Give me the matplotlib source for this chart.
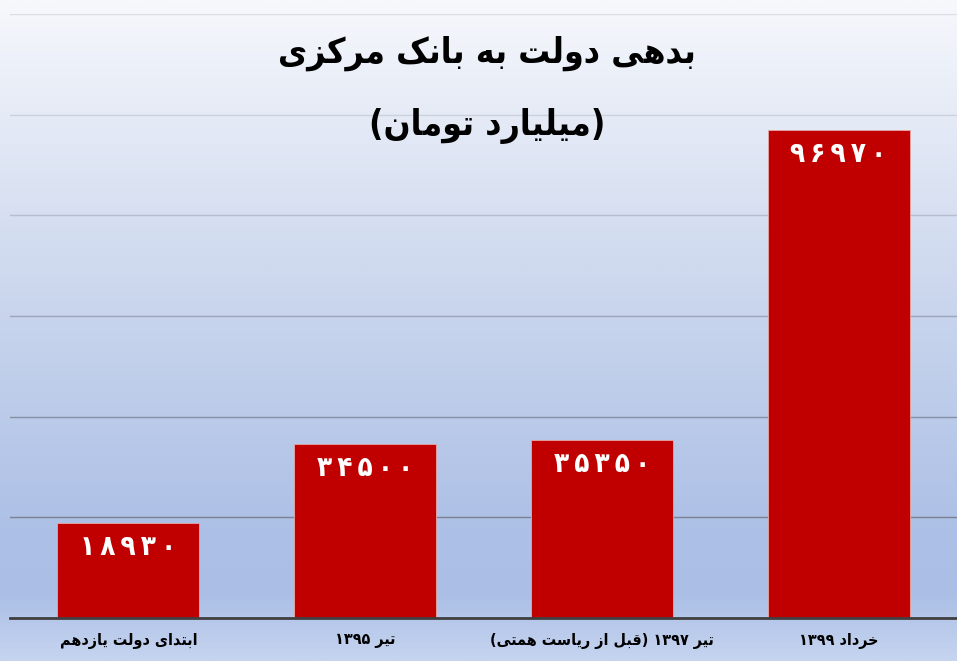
import numpy as np
import matplotlib
matplotlib.use("Agg")
import matplotlib.pyplot as plt
from matplotlib.colors import LinearSegmentedColormap

# ---------------- data ----------------
categories = ["ابتدای دولت یازدهم", "تیر ۱۳۹۵", "تیر ۱۳۹۷ (قبل از ریاست همتی)", "خرداد ۱۳۹۹"]
values = [18930, 34500, 35350, 96970]
title_line1 = "بدهی دولت به بانک مرکزی"
title_line2 = "(میلیارد تومان)"
y_ticks = [0, 20000, 40000, 60000, 80000, 100000, 120000]

# ---------------- Persian shaping helpers ----------------
FORMS = {
    'ا': (0xFE8D, 0xFE8E), 'آ': (0xFE81, 0xFE82),
    'ب': (0xFE8F, 0xFE90, 0xFE91, 0xFE92), 'پ': (0xFB56, 0xFB57, 0xFB58, 0xFB59),
    'ت': (0xFE95, 0xFE96, 0xFE97, 0xFE98), 'ث': (0xFE99, 0xFE9A, 0xFE9B, 0xFE9C),
    'ج': (0xFE9D, 0xFE9E, 0xFE9F, 0xFEA0), 'چ': (0xFB7A, 0xFB7B, 0xFB7C, 0xFB7D),
    'ح': (0xFEA1, 0xFEA2, 0xFEA3, 0xFEA4), 'خ': (0xFEA5, 0xFEA6, 0xFEA7, 0xFEA8),
    'د': (0xFEA9, 0xFEAA), 'ذ': (0xFEAB, 0xFEAC), 'ر': (0xFEAD, 0xFEAE),
    'ز': (0xFEAF, 0xFEB0), 'ژ': (0xFB8A, 0xFB8B),
    'س': (0xFEB1, 0xFEB2, 0xFEB3, 0xFEB4), 'ش': (0xFEB5, 0xFEB6, 0xFEB7, 0xFEB8),
    'ص': (0xFEB9, 0xFEBA, 0xFEBB, 0xFEBC), 'ض': (0xFEBD, 0xFEBE, 0xFEBF, 0xFEC0),
    'ط': (0xFEC1, 0xFEC2, 0xFEC3, 0xFEC4), 'ظ': (0xFEC5, 0xFEC6, 0xFEC7, 0xFEC8),
    'ع': (0xFEC9, 0xFECA, 0xFECB, 0xFECC), 'غ': (0xFECD, 0xFECE, 0xFECF, 0xFED0),
    'ف': (0xFED1, 0xFED2, 0xFED3, 0xFED4), 'ق': (0xFED5, 0xFED6, 0xFED7, 0xFED8),
    'ک': (0xFB8E, 0xFB8F, 0xFB90, 0xFB91), 'گ': (0xFB92, 0xFB93, 0xFB94, 0xFB95),
    'ل': (0xFEDD, 0xFEDE, 0xFEDF, 0xFEE0), 'م': (0xFEE1, 0xFEE2, 0xFEE3, 0xFEE4),
    'ن': (0xFEE5, 0xFEE6, 0xFEE7, 0xFEE8), 'و': (0xFEED, 0xFEEE),
    'ه': (0xFEE9, 0xFEEA, 0xFEEB, 0xFEEC), 'ی': (0xFBFC, 0xFBFD, 0xFBFE, 0xFBFF),
}
DIGITS = set('0123456789۰۱۲۳۴۵۶۷۸۹')
MIRROR = {'(': ')', ')': '('}


def joins_forward(c):
    return c in FORMS and len(FORMS[c]) == 4


def shape(text):
    out = []
    n = len(text)
    for i, c in enumerate(text):
        if c not in FORMS:
            out.append(c)
            continue
        prev = text[i - 1] if i > 0 else None
        nxt = text[i + 1] if i + 1 < n else None
        jp = prev is not None and joins_forward(prev)
        jn = nxt is not None and nxt in FORMS and joins_forward(c)
        f = FORMS[c]
        if jp and jn:
            code = f[3]
        elif jp:
            code = f[1]
        elif jn:
            code = f[2]
        else:
            code = f[0]
        out.append(chr(code))
    return ''.join(out)


def rtl(text):
    s = shape(text)
    runs = []
    for c in s:
        if c in DIGITS and runs and runs[-1][0] in DIGITS:
            runs[-1] += c
        else:
            runs.append(c)
    runs.reverse()
    return ''.join(MIRROR.get(r, r) for r in runs)


def fa_digits(n):
    return str(n).translate(str.maketrans('0123456789', '۰۱۲۳۴۵۶۷۸۹'))


# ---------------- figure ----------------
plt.rcParams['font.family'] = ['DejaVu Sans']
fig = plt.figure(figsize=(9.57, 6.61), dpi=100)

# background gradient
bg = fig.add_axes([0, 0, 1, 1], zorder=-10)
stops = [(0.0, '#f6f8fc'), (0.3, '#d9e1f2'), (0.5, '#c6d3ec'),
         (0.8, '#adc0e6'), (0.9, '#abbfe6'), (1.0, '#c6d4ef')]
cmap = LinearSegmentedColormap.from_list('bg', stops)
grad = np.linspace(0, 1, 512).reshape(-1, 1)
bg.imshow(grad, aspect='auto', cmap=cmap, extent=[0, 1, 0, 1], origin='upper')
bg.set_axis_off()

ax = fig.add_axes([10 / 957, 43 / 661, 947 / 957, 604 / 661])
ax.set_facecolor('none')

x = np.arange(len(categories))
bars = ax.bar(x, values, width=0.6, color='#c00000', edgecolor='#e8a8a8',
              linewidth=0.6, zorder=3)

ax.set_xlim(-0.5, len(categories) - 0.5)
ax.set_ylim(0, y_ticks[-1])
ax.set_yticks(y_ticks)
ax.yaxis.set_tick_params(length=0, labelleft=False)
ax.yaxis.grid(True, linewidth=1.0, zorder=0)
grid_colors = ['#404040', '#7a8090', '#8890a4', '#9ca5ba', '#b6bdcc', '#ccd1dc', '#dcdee5']
for gl, col in zip(ax.get_ygridlines(), grid_colors):
    gl.set_color(col)

for side in ['left', 'right', 'top']:
    ax.spines[side].set_visible(False)
ax.spines['bottom'].set_color('#404040')
ax.spines['bottom'].set_linewidth(2.0)
ax.spines['bottom'].set_zorder(4)

ax.set_xticks(x)
ax.set_xticklabels([rtl(c) for c in categories], fontsize=11.5,
                   fontweight='bold', fontstretch='condensed', color='black')
ax.xaxis.set_tick_params(length=0, pad=11)

for xi, v in zip(x, values):
    label = '\u2009'.join(fa_digits(v))
    ax.annotate(label, (xi, v), xytext=(0, -24), textcoords='offset pixels',
                ha='center', va='center', color='white', fontsize=20,
                fontweight='bold', fontstretch='condensed', zorder=5)

fig.text(0.509, 0.919, rtl(title_line1), ha='center', va='center',
         fontsize=25.5, fontweight='heavy', fontstretch='condensed', color='black')
fig.text(0.509, 0.809, rtl(title_line2), ha='center', va='center',
         fontsize=25.5, fontweight='heavy', fontstretch='condensed', color='black')

fig.savefig('out.png', dpi=100)
